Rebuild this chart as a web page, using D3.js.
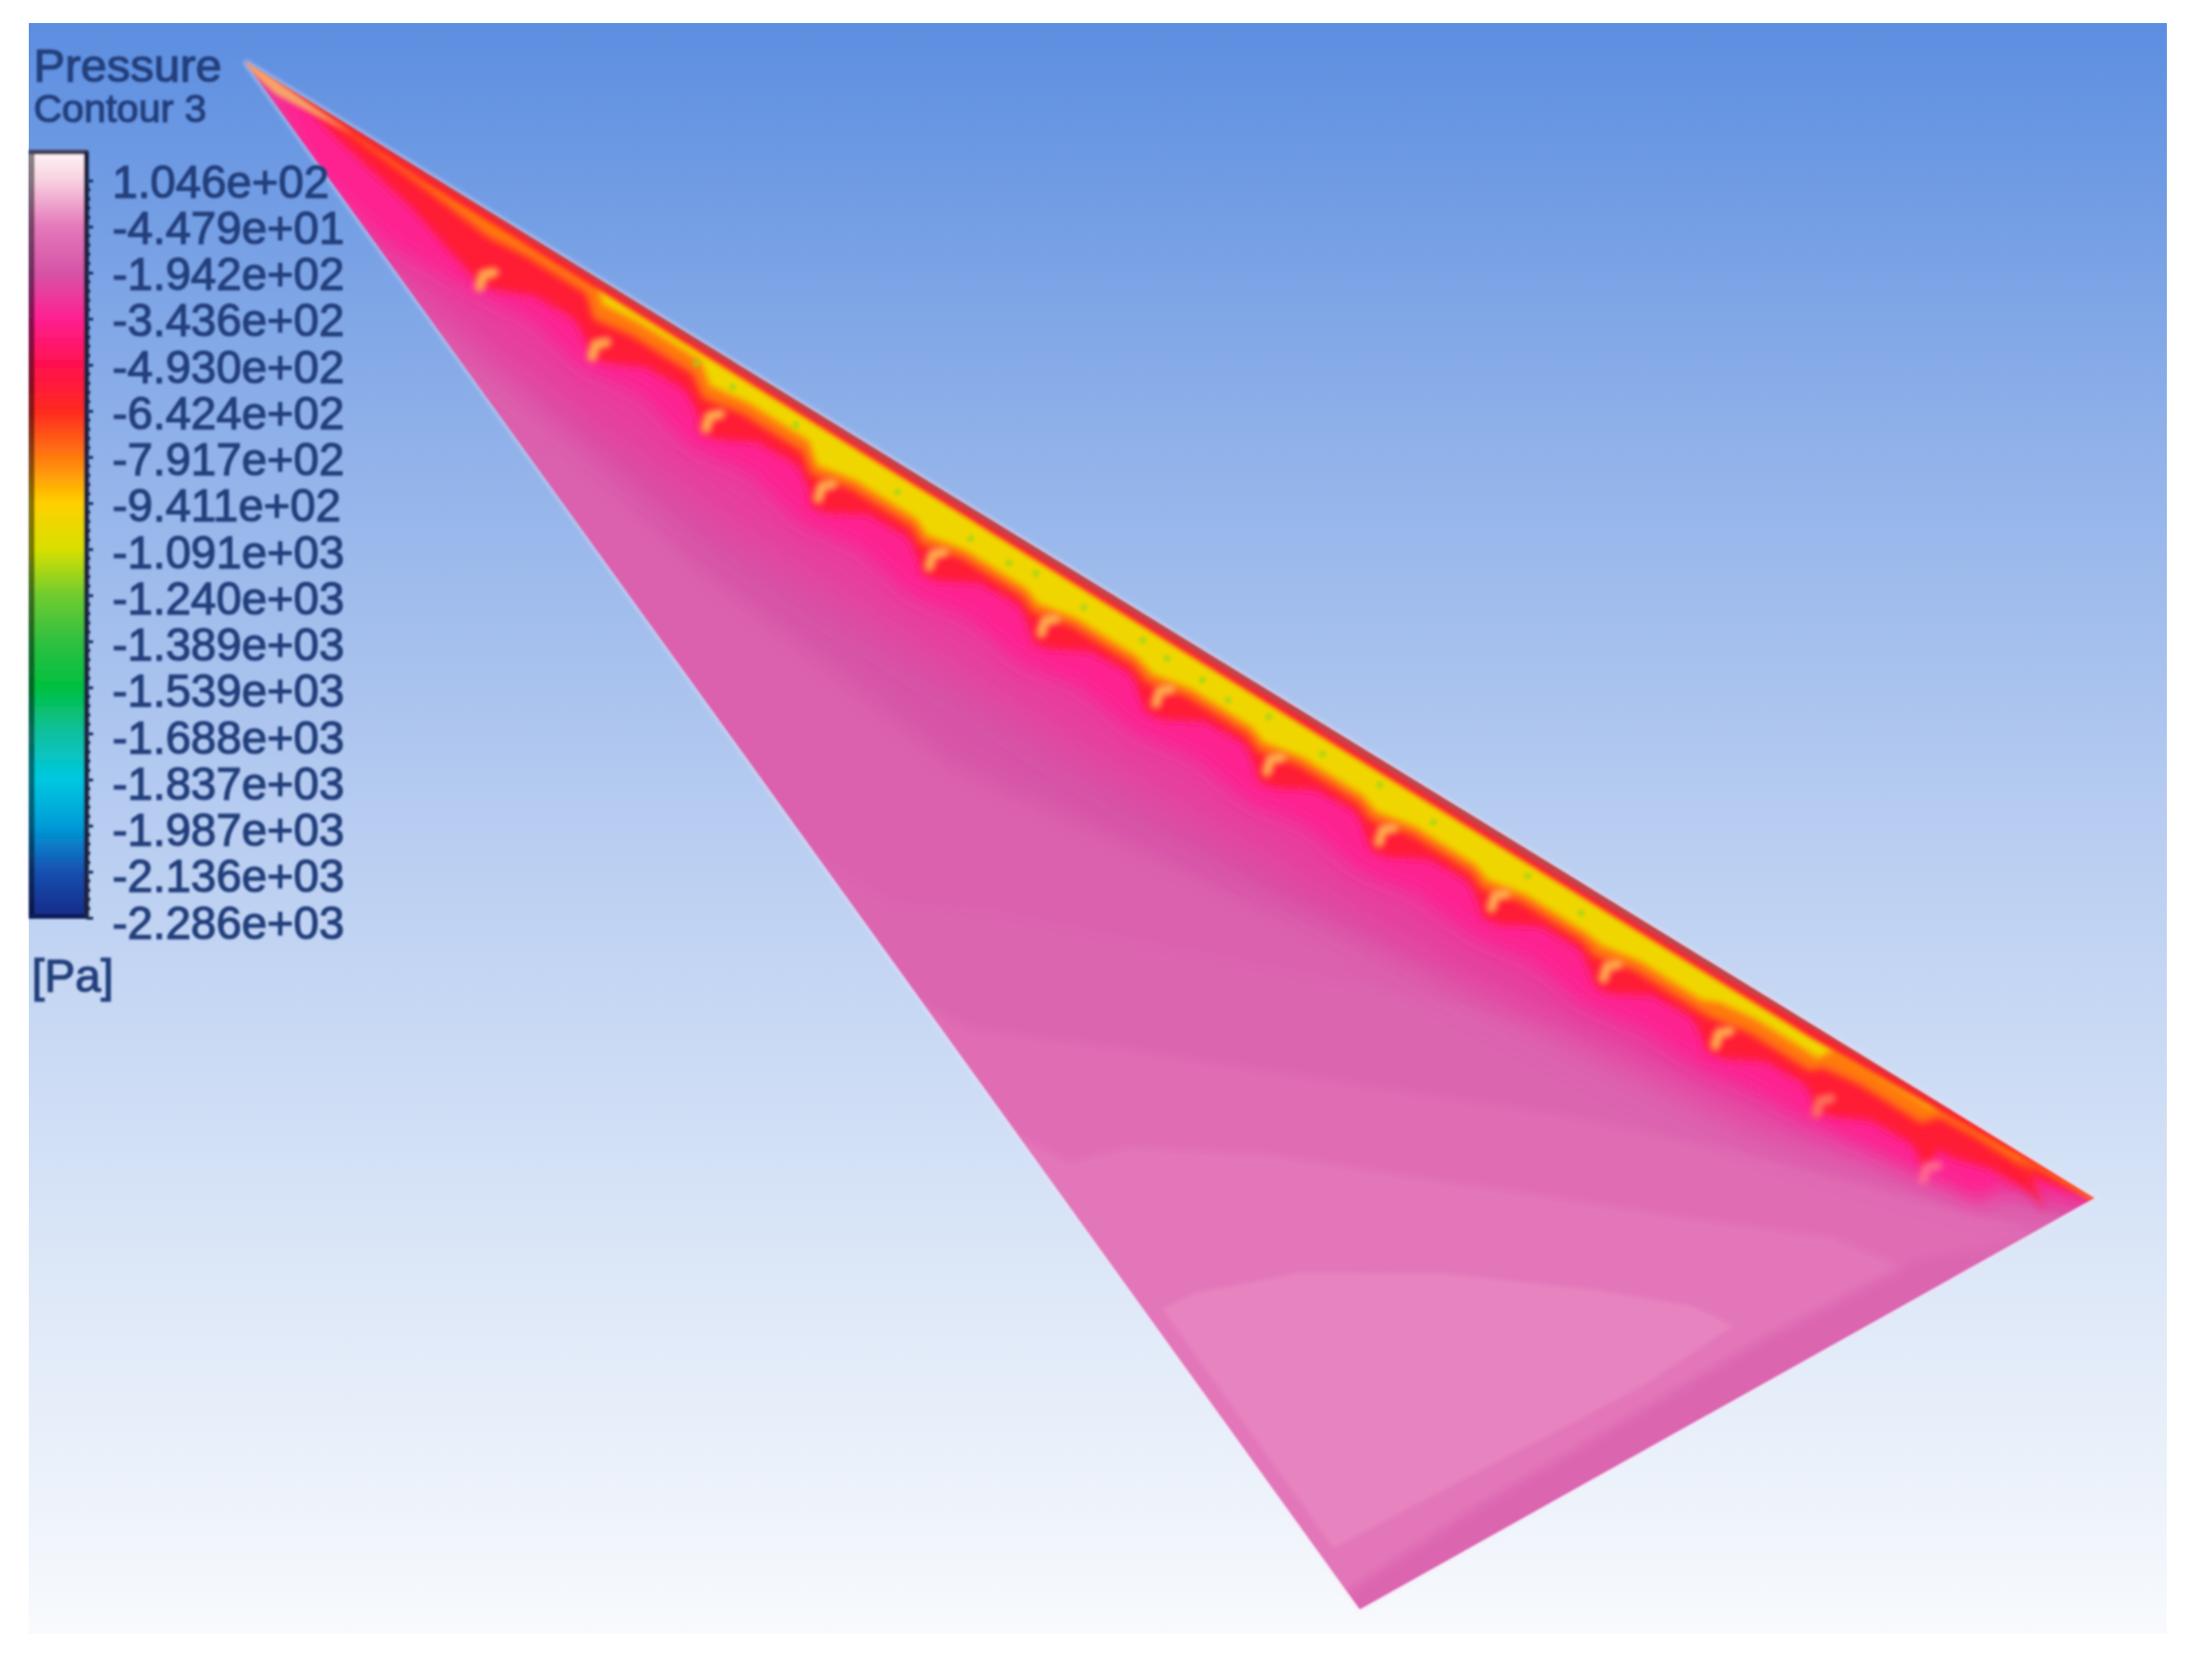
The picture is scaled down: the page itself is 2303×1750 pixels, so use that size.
<!DOCTYPE html>
<html>
<head>
<meta charset="utf-8">
<script src="https://cdnjs.cloudflare.com/ajax/libs/d3/7.8.5/d3.min.js"></script>
<style>
	html, body { margin: 0; padding: 0; background: #fff; }
	text { font-family: "Liberation Sans", Arial, sans-serif; fill: #243f7c; }
</style>
</head>
<body>
<div id="chart"></div>
<script>
const width = 2303;
const height = 1750;

// legend
const levelLabels = ["1.046e+02", "-4.479e+01", "-1.942e+02", "-3.436e+02", "-4.930e+02", "-6.424e+02",
	"-7.917e+02", "-9.411e+02", "-1.091e+03", "-1.240e+03", "-1.389e+03", "-1.539e+03", "-1.688e+03",
	"-1.837e+03", "-1.987e+03", "-2.136e+03", "-2.286e+03"];
const levelColors = ["#f8d0e0", "#e478ba", "#d654a7", "#ff2090", "#ff1050", "#ff2a20", "#ff7a10", "#ffd000",
	"#d8e000", "#70cc30", "#30c040", "#00c040", "#10c0a0", "#00c8e0", "#009cd8", "#1850b0", "#182a88"];
const levelValues = levelLabels.map(Number);

// sky colours top to bottom
const skyColors = ["#5c8ee0", "#8eb0e9", "#b8cdf1", "#d9e5f7", "#f8fafd"];

// wing outline, s = along the leading edge, d = depth away from it
const wingOutline = [[0, 0], [1, 0], [0.811, 1]];

// suction peak: one hook per rib station
const hookS = [0.145, 0.206, 0.268, 0.329, 0.389, 0.449, 0.511, 0.571, 0.632, 0.692, 0.753, 0.813, 0.869, 0.927];
const hookD = [0.077, 0.078, 0.080, 0.081, 0.081, 0.078, 0.078, 0.078, 0.080, 0.076, 0.078, 0.076, 0.082, 0.084];
const hookPressure = [-830, -830, -830, -830, -830, -830, -830, -830, -830, -830, -830, -830, -640, -400];

const pinkDepth = [0.105, 0.115, 0.13, 0.14, 0.145, 0.145, 0.145, 0.145, 0.145, 0.14, 0.14, 0.13, 0.115, 0.095];
const redDepth = [0.09, 0.095, 0.105, 0.112, 0.112, 0.112, 0.112, 0.112, 0.112, 0.11, 0.11, 0.105, 0.095, 0.055];
const orangeDepth = [0.03, 0.05, 0.064, 0.075, 0.077, 0.077, 0.077, 0.077, 0.077, 0.077, 0.075, 0.064, 0.042, 0.016];
const yellowDepth = [0, 0.026, 0.044, 0.06, 0.063, 0.063, 0.063, 0.063, 0.063, 0.063, 0.058, 0.04, 0.014, 0];

// shape of the scallop between two hooks: [offset in s, share of the depth]
const redTooth = [[0, 1], [0.008, 0.97], [0.025, 0.72], [0.045, 0.7], [0.05, 0.76], [0.058, 0.93]];
const softTooth = [[-0.007, 1], [0.012, 0.84], [0.045, 0.86]];
const pinkTooth = [[0, 1], [0.03, 0.9]];

// field contours away from the leading edge
const pinkOuter = [[0, 0], [0.1, 0.15], [0.3, 0.2], [0.5, 0.21], [0.7, 0.2], [0.85, 0.16], [0.95, 0.08], [1, 0]];
const contour0 = [[-0.02, 0.1], [0.15, 0.15], [0.3, 0.26], [0.45, 0.31], [0.6, 0.25], [0.75, 0.16], [0.9, 0.09], [1.02, 0.04], [1.02, 1.05], [0.4, 1.05]];
const contour1 = [[0.40, 0.51], [0.459, 0.511], [0.495, 0.454], [0.558, 0.387], [0.620, 0.318], [0.682, 0.250], [0.746, 0.191], [0.814, 0.148], [0.881, 0.105], [0.949, 0.065], [1.02, 0.03], [1.02, 1.05], [0.6, 1.05]];
const contour2 = [[0.45, 0.62], [0.519, 0.604], [0.585, 0.516], [0.646, 0.441], [0.706, 0.365], [0.766, 0.289], [0.829, 0.221], [0.892, 0.162], [0.957, 0.101], [1.02, 0.06], [1.02, 1.05], [0.7, 1.05]];
const contour3 = [[0.55, 0.70], [0.590, 0.689], [0.609, 0.631], [0.666, 0.539], [0.727, 0.463], [0.787, 0.387], [0.848, 0.311], [0.907, 0.233], [0.983, 0.2], [1.02, 0.2], [1.02, 1.05], [0.7, 1.05]];
const contour4 = [[0.661, 0.792], [0.671, 0.749], [0.706, 0.654], [0.764, 0.550], [0.826, 0.463], [0.868, 0.412], [0.889, 0.406], [0.868, 0.540], [0.842, 0.669], [0.816, 0.797], [0.790, 0.927], [0.786, 0.948]];
const trailingStrip = [[0.80, 1], [0.832, 0.8], [0.868, 0.6], [0.904, 0.4], [0.945, 0.2], [1.02, 0], [1.02, 0.2], [0.85, 1.05], [0.79, 1.05]];

// green specks in the yellow band
const speckS = [0.25, 0.27, 0.304, 0.36, 0.40, 0.421, 0.434, 0.461, 0.492, 0.506, 0.525, 0.54, 0.56, 0.59, 0.62, 0.65, 0.70, 0.73];
const speckD = [0.028, 0.03, 0.029, 0.034, 0.036, 0.037, 0.03, 0.035, 0.031, 0.035, 0.035, 0.04, 0.03, 0.035, 0.03, 0.035, 0.03, 0.035];

const svg = d3.select("#chart").append("svg")
	.attr("width", width)
	.attr("height", height)
	.style("display", "block");
const defs = svg.append("defs");

function addBlur(id, amount) {
	defs.append("filter")
		.attr("id", id)
		.attr("filterUnits", "userSpaceOnUse")
		.attr("x", -600).attr("y", -600)
		.attr("width", 3600).attr("height", 3000)
		.append("feGaussianBlur").attr("stdDeviation", amount);
}
addBlur("blur1", 1.3);
addBlur("blur2", 2);
addBlur("blur3", 3);
addBlur("blur4", 4);
addBlur("blur6", 6);
addBlur("blur10", 10);
addBlur("blur14", 14);
addBlur("blur22", 22);

// background
const bg = defs.append("linearGradient").attr("id", "sky").attr("x1", 0).attr("x2", 0).attr("y1", 0).attr("y2", 1);
skyColors.forEach((c, i) => bg.append("stop").attr("offset", i / (skyColors.length - 1)).attr("stop-color", c));
svg.append("rect")
	.attr("x", 30).attr("y", 24)
	.attr("width", 2227).attr("height", 1678)
	.attr("fill", "url(#sky)");

// wing frame, rotated onto the leading edge
const sScale = d3.scaleLinear().domain([0, 1]).range([0, 2261]);
const dScale = d3.scaleLinear().domain([0, 1]).range([0, 765]);
const pressureColor = d3.scaleLinear().domain(levelValues.slice().reverse()).range(levelColors.slice().reverse());
const line = d3.line().x(p => sScale(p[0])).y(p => dScale(p[1]));
const closed = pts => line(pts) + "Z";

const wing = svg.append("g").attr("transform", "translate(255,64) rotate(31.58)");

defs.append("clipPath").attr("id", "wingClip")
	.append("path")
	.attr("transform", "translate(255,64) rotate(31.58)")
	.attr("d", closed(wingOutline));

// pale halo round the wing
wing.append("path")
	.attr("d", closed(wingOutline))
	.attr("fill", "none")
	.attr("stroke", "#fbe2f6")
	.attr("stroke-width", 5)
	.attr("opacity", 0.45)
	.attr("filter", "url(#blur2)");

const soft = svg.append("g").attr("filter", "url(#blur1)");
const clipped = soft.append("g").attr("clip-path", "url(#wingClip)");
const body = clipped.append("g").attr("transform", "translate(255,64) rotate(31.58)");

function scallop(depths, tooth, head, tail) {
	const pts = [[0, -0.02]].concat(head);
	hookS.forEach((s, i) => {
		tooth.forEach(t => pts.push([s + t[0], depths[i] * t[1]]));
	});
	return pts.concat(tail, [[1.02, -0.02]]);
}

function band(pts, pressure, blur) {
	body.append("path")
		.attr("d", closed(pts))
		.attr("fill", pressureColor(pressure))
		.attr("filter", blur ? "url(#" + blur + ")" : null);
}

// deep field first
body.append("path").attr("d", closed([[-0.05, -0.05], [1.05, -0.05], [1.05, 1.05], [-0.05, 1.05]])).attr("fill", pressureColor(-195));
band(contour0, -145, "blur14");
band(contour1, -125, "blur6");
band(contour2, -90, "blur4");
band(contour3, -52, "blur4");
band(contour4, -25, "blur2");
band(trailingStrip, -125, "blur6");

// suction side, outer to inner
band([[0, -0.02]].concat(pinkOuter, [[1.02, -0.02]]), -260, "blur22");
band(scallop(pinkDepth, pinkTooth, [[0.05, 0.08], [0.1, 0.11]], [[0.96, 0.05], [1, 0.01]]), -340, "blur10");
band(scallop(redDepth, redTooth, [[0.05, 0.02], [0.1, 0.05]], [[0.97, 0.02], [1, 0]]), -580, "blur4");
band(scallop(orangeDepth, softTooth, [[0.06, 0.008], [0.1, 0.018]], [[0.96, 0.006], [1, 0]]), -790, "blur4");
band(scallop(yellowDepth, softTooth, [[0.12, 0]], [[1, 0]]), -1000, "blur3");

// specks and hooks
body.append("g").selectAll("circle")
	.data(speckS)
	.join("circle")
	.attr("cx", d => sScale(d))
	.attr("cy", (d, i) => dScale(speckD[i]))
	.attr("r", 4)
	.attr("fill", pressureColor(-1180))
	.attr("opacity", 0.6)
	.attr("filter", "url(#blur1)");

body.append("g").selectAll("path")
	.data(hookS)
	.join("path")
	.attr("d", (s, i) => line([[s + 0.0037, hookD[i] - 0.01], [s, hookD[i]], [s + 0.0015, hookD[i] + 0.017]]))
	.attr("fill", "none")
	.attr("stroke", (s, i) => d3.interpolateRgb(pressureColor(hookPressure[i]), "#ffd8b0")(0.4))
	.attr("stroke-width", 10)
	.attr("stroke-linecap", "round")
	.attr("stroke-linejoin", "round")
	.attr("filter", "url(#blur3)");

// leading edge strips
band([[0, -0.02], [0, 0], [0.1, 0.012], [0.6, 0.016], [0.85, 0.016], [1, 0], [1.02, -0.02]], -600, "blur2");
body.append("path")
	.attr("d", closed([[0, -0.02], [0, 0], [0.3, 0.007], [0.8, 0.008], [0.92, 0], [1.02, -0.02]]))
	.attr("fill", "#bb4650")
	.attr("filter", "url(#blur2)");

// apex fades out orange
body.append("path")
	.attr("d", closed([[0, -0.005], [0.03, 0.002], [0.06, 0.008], [0.02, 0.016], [0, 0.005]]))
	.attr("fill", "#f5a468")
	.attr("filter", "url(#blur2)");

// colour bar
const barY = d3.scalePoint().domain(levelLabels).range([188, 956]);
const barGrad = defs.append("linearGradient").attr("id", "bar")
	.attr("gradientUnits", "userSpaceOnUse")
	.attr("x1", 0).attr("x2", 0).attr("y1", 160).attr("y2", 956);
barGrad.append("stop").attr("offset", 0).attr("stop-color", "#fdf2f5");
levelLabels.forEach((l, i) => {
	barGrad.append("stop")
		.attr("offset", (barY(l) - 160) / (956 - 160))
		.attr("stop-color", levelColors[i]);
});

const legend = svg.append("g").attr("filter", "url(#blur1)");
legend.append("rect").attr("x", 30).attr("y", 158).attr("width", 60).attr("height", 798).attr("fill", "url(#bar)");
legend.append("rect").attr("x", 30).attr("y", 158).attr("width", 6).attr("height", 798).attr("fill", "#000").attr("opacity", 0.45);
legend.append("rect").attr("x", 30).attr("y", 156).attr("width", 62).attr("height", 5).attr("fill", "#4a4560");
legend.append("rect").attr("x", 30).attr("y", 952).attr("width", 62).attr("height", 5).attr("fill", "#101c5c");

const minorTicks = d3.range(0, 16).flatMap(i => d3.range(1, 5).map(k => barY(levelLabels[0]) + (i + k / 5) * barY.step()));
legend.append("g").selectAll("rect")
	.data(minorTicks)
	.join("rect")
	.attr("x", 90).attr("y", d => d - 1.5)
	.attr("width", 4).attr("height", 3)
	.attr("fill", "#14264e");

legend.append("g")
	.attr("transform", "translate(90,0)")
	.call(d3.axisRight(barY).tickSize(7).tickSizeOuter(0).tickFormat(""))
	.call(g => g.select(".domain").attr("stroke", "#1c2440").attr("stroke-width", 5).attr("d", "M0,158V956"))
	.call(g => g.selectAll(".tick line").attr("stroke", "#1c3060").attr("stroke-width", 3));

// labels run on a slightly longer step than the ticks
const labelY = d3.scalePoint().domain(levelLabels).range([190, 962]);
const labels = svg.append("g").attr("filter", "url(#blur1)");
labels.append("g")
	.attr("transform", "translate(117,0)")
	.call(d3.axisRight(labelY).tickSize(0).tickPadding(0))
	.call(g => g.select(".domain").remove())
	.call(g => g.selectAll("text")
		.style("font-family", "Liberation Sans")
		.style("font-size", "47.5px")
		.style("fill", "#243f7c")
		.style("stroke", "#243f7c")
		.style("stroke-width", "1.2px"));

[["Pressure", 35, 85, 49], ["Contour 3", 35, 127, 41], ["[Pa]", 33, 1033, 48]].forEach(t => {
	labels.append("text")
		.attr("x", t[1]).attr("y", t[2])
		.style("font-size", t[3] + "px")
		.style("stroke", "#243f7c")
		.style("stroke-width", "1.2px")
		.text(t[0]);
});
</script>
</body>
</html>
